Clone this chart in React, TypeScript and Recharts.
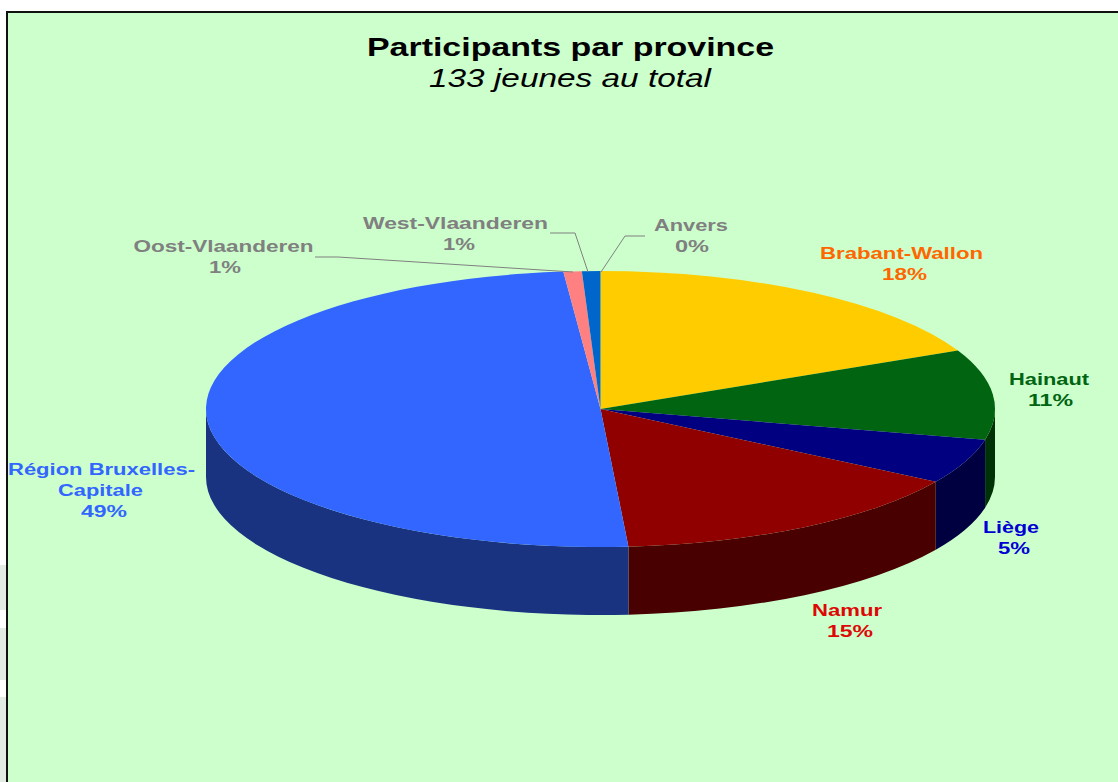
import React from "react";
import { PieChart, Pie } from "recharts";

const provinces = [
  "Brabant-Wallon",
  "Hainaut",
  "Liège",
  "Namur",
  "Région Bruxelles-Capitale",
  "Oost-Vlaanderen",
  "West-Vlaanderen",
  "Anvers",
];
const participants = [24, 14, 7, 20, 66, 1, 1, 0];
const shareLabels = ["18%", "11%", "5%", "15%", "49%", "1%", "1%", "0%"];

const topColors = ["#FFCC00", "#006411", "#000080", "#900000", "#3366FF", "#FF8080", "#0066CC", "#0066CC"];
const sideColors = ["#806600", "#003208", "#000040", "#480000", "#1A3380", "#804040", "#003366", "#003366"];
const textColors = ["#FF6600", "#006411", "#0000D4", "#DD0806", "#3366FF", "#808080", "#808080", "#808080"];

// x centre, baseline, stretched width of each label line
const labelLines: { text: (i: number) => string; x: number; y: number; w: number }[][] = [
  [
    { text: () => "Brabant-Wallon", x: 901.5, y: 259, w: 163 },
    { text: (i) => shareLabels[i], x: 904.5, y: 280, w: 45 },
  ],
  [
    { text: () => "Hainaut", x: 1049, y: 385, w: 80 },
    { text: (i) => shareLabels[i], x: 1050.5, y: 406, w: 45 },
  ],
  [
    { text: () => "Liège", x: 1011, y: 533, w: 56 },
    { text: (i) => shareLabels[i], x: 1014, y: 554, w: 32 },
  ],
  [
    { text: () => "Namur", x: 847, y: 616, w: 70 },
    { text: (i) => shareLabels[i], x: 850, y: 637, w: 46 },
  ],
  [
    { text: () => "Région Bruxelles-", x: 101.5, y: 475, w: 187 },
    { text: () => "Capitale", x: 100.5, y: 496, w: 85 },
    { text: (i) => shareLabels[i], x: 104, y: 517, w: 46 },
  ],
  [
    { text: () => "Oost-Vlaanderen", x: 223.5, y: 252, w: 180 },
    { text: (i) => shareLabels[i], x: 225, y: 273, w: 32 },
  ],
  [
    { text: () => "West-Vlaanderen", x: 455.5, y: 229, w: 185 },
    { text: (i) => shareLabels[i], x: 459, y: 250, w: 32 },
  ],
  [
    { text: () => "Anvers", x: 691, y: 231, w: 74 },
    { text: (i) => shareLabels[i], x: 692, y: 252, w: 34 },
  ],
];

const leaderLines: Record<number, string> = {
  5: "315,257 338,257 573,272",
  6: "550,233 575,233 588,272",
  7: "601,272 625,236 645,236",
};

// grey patches in the white gutter, left of the frame
const gutterPatches = [
  [565, 45],
  [628, 52],
  [697, 85],
];

const data = provinces.map((name, i) => ({ name, value: participants[i] }));

const TILT = 138 / 394.5;
const DEPTH = 68;

// flattened sector with its front wall, angles come from the Pie layout
const Sector3D = (props: any) => {
  const { cx, cy, outerRadius, startAngle, endAngle, index } = props;
  const rx = outerRadius;
  const ry = outerRadius * TILT;
  const t0 = 90 - startAngle;
  const t1 = 90 - endAngle;
  const pt = (t: number, dy = 0) => {
    const a = (t * Math.PI) / 180;
    return `${cx + rx * Math.sin(a)} ${cy - ry * Math.cos(a) + dy}`;
  };
  const large = t1 - t0 > 180 ? 1 : 0;
  const wall0 = Math.max(t0, 90);
  const wall1 = Math.min(t1, 270);
  return (
    <g>
      {wall1 > wall0 && (
        <path
          d={`M${pt(wall0)} A${rx} ${ry} 0 0 1 ${pt(wall1)} L${pt(wall1, DEPTH)} A${rx} ${ry} 0 0 0 ${pt(wall0, DEPTH)} Z`}
          fill={sideColors[index]}
        />
      )}
      <path
        d={`M${cx} ${cy} L${pt(t0)} A${rx} ${ry} 0 ${large} 1 ${pt(t1)} Z`}
        fill={topColors[index]}
      />
    </g>
  );
};

const renderLabel = (props: any) => {
  const { index } = props;
  return (
    <g key={index}>
      {leaderLines[index] && (
        <polyline points={leaderLines[index]} fill="none" stroke="#808080" strokeWidth={1} />
      )}
      {labelLines[index].map((line, j) => (
        <text
          key={j}
          x={line.x}
          y={line.y}
          textAnchor="middle"
          textLength={line.w}
          lengthAdjust="spacingAndGlyphs"
          fontFamily="Liberation Sans"
          fontWeight="bold"
          fontSize={16}
          fill={textColors[index]}
        >
          {line.text(index)}
        </text>
      ))}
    </g>
  );
};

export default function App() {
  return (
    <div style={{ position: "fixed", left: 0, top: 0, width: 1118, height: 782, background: "#fff", overflow: "hidden" }}>
      {gutterPatches.map(([top, height]) => (
        <div key={top} style={{ position: "absolute", left: 0, top, width: 6, height, background: "#E3ECE3" }} />
      ))}
      <div
        style={{
          position: "absolute",
          left: 6,
          top: 11,
          width: 1120,
          height: 780,
          background: "#CCFFCC",
          border: "2px solid #111",
          boxSizing: "border-box",
        }}
      />
      <div style={{ position: "absolute", left: 0, top: 0 }}>
        <PieChart width={1118} height={782} margin={{ top: 0, right: 0, bottom: 0, left: 0 }}>
          <text
            x={570.5}
            y={56}
            textAnchor="middle"
            textLength={407}
            lengthAdjust="spacingAndGlyphs"
            fontFamily="Liberation Sans"
            fontWeight="bold"
            fontSize={25}
            fill="#000"
          >
            Participants par province
          </text>
          <text
            x={570}
            y={87}
            textAnchor="middle"
            textLength={282}
            lengthAdjust="spacingAndGlyphs"
            fontFamily="Liberation Sans"
            fontStyle="italic"
            fontSize={25}
            fill="#000"
          >
            133 jeunes au total
          </text>
          <Pie
            data={data}
            dataKey="value"
            nameKey="name"
            cx={600.5}
            cy={409}
            innerRadius={0}
            outerRadius={394.5}
            startAngle={90}
            endAngle={-270}
            stroke="none"
            shape={Sector3D}
            label={renderLabel}
            labelLine={false}
            isAnimationActive={false}
          />
        </PieChart>
      </div>
    </div>
  );
}
